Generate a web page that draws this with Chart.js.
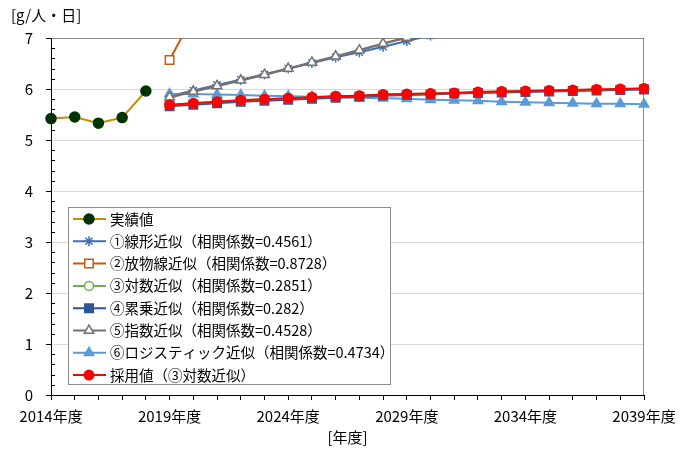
<!DOCTYPE html>
<html lang="ja">
  <head>
    <meta charset="UTF-8" />
    <title>推計</title>
    <style>
      html, body { margin: 0; padding: 0; background: #fff; }
      .chart-view { width: 686px; height: 450px; }
    </style>
  </head>
  <body>
    <div class="chart-view"><canvas id="chart"></canvas></div>

    <script src="https://cdn.jsdelivr.net/npm/chart.js@4.4.1/dist/chart.umd.min.js"></script>
    <script>
      //data
      const years = ['2014', '2015', '2016', '2017', '2018', '2019', '2020', '2021', '2022', '2023', '2024', '2025', '2026',
        '2027', '2028', '2029', '2030', '2031', '2032', '2033', '2034', '2035', '2036', '2037', '2038', '2039'];
      const pad = [null, null, null, null, null];

      const actual = [5.42, 5.45, 5.33, 5.44, 5.96];
      const linearFit = [5.86, 5.97, 6.08, 6.18, 6.29, 6.40, 6.51, 6.62, 6.72, 6.83, 6.94, 7.05, 7.16, 7.26, 7.37, 7.48, 7.59, 7.70, 7.80, 7.91, 8.02];
      const parabolaFit = [6.57, 7.44, 8.40, 9.45, 10.58, 11.80, 13.10, 14.49, 15.97, 17.53, 19.18, 20.92, 22.74, 24.65, 26.65, 28.73, 30.90, 33.16, 35.50, 37.93, 40.45];
      const logFit = [5.69, 5.72, 5.75, 5.78, 5.80, 5.82, 5.84, 5.86, 5.87, 5.89, 5.90, 5.91, 5.92, 5.94, 5.95, 5.96, 5.97, 5.98, 5.99, 6.00, 6.01];
      const powerFit = [5.66, 5.69, 5.72, 5.75, 5.77, 5.79, 5.81, 5.83, 5.85, 5.87, 5.88, 5.89, 5.91, 5.92, 5.93, 5.94, 5.95, 5.96, 5.97, 5.98, 5.99];
      const expFit = [5.84, 5.95, 6.06, 6.17, 6.28, 6.40, 6.52, 6.64, 6.76, 6.89, 7.01, 7.14, 7.27, 7.41, 7.54, 7.68, 7.83, 7.97, 8.12, 8.27, 8.42];
      const logisticFit = [5.90, 5.90, 5.89, 5.88, 5.87, 5.86, 5.85, 5.84, 5.83, 5.82, 5.81, 5.79, 5.78, 5.77, 5.75, 5.74, 5.73, 5.72, 5.71, 5.71, 5.70];
      const adopted = logFit;

      const FONT = "'Noto Sans CJK JP', 'Noto Sans', sans-serif";
      Chart.defaults.font.family = FONT;
      Chart.defaults.color = '#000';

      const series = (label, data, color, style, radius, fill, order, lineWidth) => ({
        label: label,
        data: data,
        borderColor: color,
        borderWidth: lineWidth || 2,
        pointStyle: style,
        pointRadius: radius,
        pointHoverRadius: radius,
        pointBackgroundColor: fill,
        pointBorderColor: color,
        pointBorderWidth: 1.5,
        tension: 0,
        fill: false,
        order: order
      });

      const datasets = [
        Object.assign(series('実績値', actual, '#BF9000', 'circle', 5, '#003300', 7), { pointBorderColor: '#003300' }),
        series('①線形近似（相関係数=0.4561）', pad.concat(linearFit), '#3F6FB5', 'star', 5, '#3F6FB5', 5),
        series('②放物線近似（相関係数=0.8728）', pad.concat(parabolaFit), '#C55A11', 'rect', 6, '#ffffff', 6),
        series('③対数近似（相関係数=0.2851）', pad.concat(logFit), '#70AD47', 'circle', 4.5, '#ffffff', 2),
        series('④累乗近似（相関係数=0.282）', pad.concat(powerFit), '#2F5597', 'rect', 6, '#2F5597', 3),
        series('⑤指数近似（相関係数=0.4528）', pad.concat(expFit), '#767171', 'triangle', 5.5, '#ffffff', 1, 2.5),
        series('⑥ロジスティック近似（相関係数=0.4734）', pad.concat(logisticFit), '#5B9BD5', 'triangle', 5.5, '#5B9BD5', 4),
        Object.assign(series('採用値（③対数近似）', pad.concat(adopted), '#FF0000', 'circle', 5.5, '#FF0000', 0), { pointBorderWidth: 0 })
      ];

      //extras: plot border, minor ticks, y title, legend box
      const extras = {
        id: 'extras',
        beforeDatasetsDraw(chart) {
          const { ctx, chartArea: a } = chart;
          ctx.save();
          ctx.strokeStyle = '#8c8c8c';
          ctx.lineWidth = 1;
          ctx.beginPath();
          ctx.moveTo(a.right - 0.5, a.top);
          ctx.lineTo(a.right - 0.5, a.bottom);
          ctx.stroke();
          ctx.restore();
        },
        afterDraw(chart) {
          const { ctx, chartArea: a, scales } = chart;
          ctx.save();

          // minor ticks on y axis
          ctx.strokeStyle = '#000';
          ctx.lineWidth = 1;
          ctx.beginPath();
          for (let k = 0; k <= 35; k++) {
            if (k % 5 === 0) continue;
            const py = Math.round(scales.y.getPixelForValue(k / 5)) + 0.5;
            ctx.moveTo(a.left, py);
            ctx.lineTo(a.left + 4, py);
          }
          ctx.stroke();

          // y axis title
          ctx.fillStyle = '#000';
          ctx.font = '15px ' + FONT;
          ctx.textBaseline = 'middle';
          ctx.textAlign = 'left';
          ctx.fillText('[g/人・日]', 11, 15);

          // legend
          const bx = 68, by = 207, bw = 322, bh = 177, rowH = 22.3;
          ctx.fillStyle = '#fff';
          ctx.fillRect(bx, by, bw, bh);
          ctx.strokeStyle = '#8c8c8c';
          ctx.strokeRect(bx + 0.5, by + 0.5, bw, bh);
          chart.data.datasets.forEach((ds, i) => {
            const cy = by + 12 + i * rowH;
            ctx.strokeStyle = ds.borderColor;
            ctx.lineWidth = 2;
            ctx.beginPath();
            ctx.moveTo(bx + 5, cy);
            ctx.lineTo(bx + 38, cy);
            ctx.stroke();
            ctx.fillStyle = ds.pointBackgroundColor;
            ctx.strokeStyle = ds.pointBorderColor;
            ctx.lineWidth = ds.pointBorderWidth;
            Chart.helpers.drawPoint(ctx, {
              pointStyle: ds.pointStyle,
              rotation: 0,
              radius: ds.pointRadius,
              borderWidth: ds.pointBorderWidth
            }, bx + 21, cy);
            ctx.fillStyle = '#000';
            ctx.font = '14.5px ' + FONT;
            ctx.fillText(ds.label, bx + 42, cy);
          });
          ctx.restore();
        }
      };

      //config
      const config = {
        type: 'line',
        data: {
          labels: years,
          datasets: datasets
        },
        options: {
          responsive: true,
          maintainAspectRatio: false,
          animation: false,
          devicePixelRatio: 1,
          spanGaps: false,
          layout: { padding: { top: 38, right: 42, left: 0, bottom: 0 } },
          plugins: {
            legend: { display: false },
            tooltip: { enabled: false }
          },
          scales: {
            x: {
              offset: false,
              grid: { display: true, drawOnChartArea: false, tickLength: 5, tickColor: '#000' },
              border: { color: '#000' },
              ticks: {
                autoSkip: false,
                maxRotation: 0,
                padding: 7,
                font: { size: 15 },
                callback: function (v, i) {
                  return i % 5 === 0 ? this.getLabelForValue(v) + '年度' : '';
                }
              },
              title: { display: true, text: '[年度]', font: { size: 15 }, padding: { top: 0, bottom: 4 } },
              afterFit: (s) => { s.height = 55; }
            },
            y: {
              min: 0,
              max: 7,
              ticks: { stepSize: 1, padding: 13, font: { size: 15 } },
              grid: {
                color: (c) => (c.tick && c.tick.value === 7 ? '#8c8c8c' : '#d9d9d9'),
                tickColor: '#000',
                tickLength: 5
              },
              border: { color: '#000' },
              afterFit: (s) => { s.width = 51; }
            }
          }
        },
        plugins: [extras]
      };

      //init
      const ctx = document.getElementById('chart');
      const chart = new Chart(ctx, config);
    </script>
  </body>
</html>
